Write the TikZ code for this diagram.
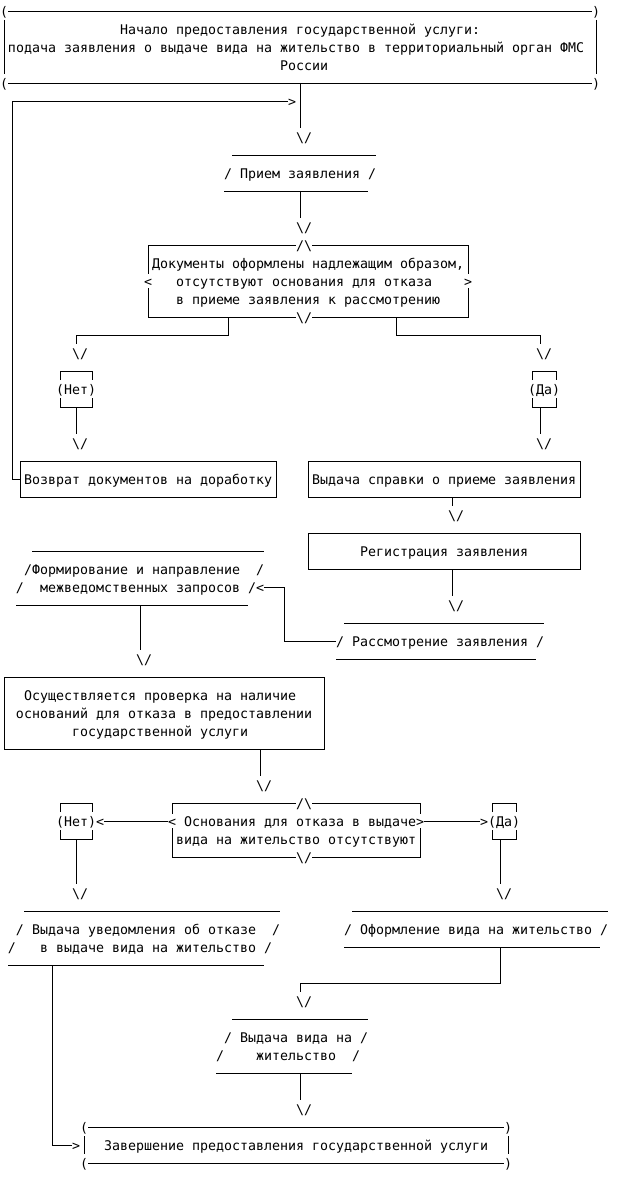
\documentclass[tikz,border=0pt]{standalone}
\usepackage{fontspec}
\newfontfamily\monof{DejaVu Sans Mono}
\frenchspacing
\newcommand\Tx[4]{\node[txt] (#1) at ({#2-0.5},{#3+0.3}) {#4};}
\newcommand\Dn[3]{\Tx{#1}{#2}{#3}{\textbackslash/}}
\newcommand\Up[3]{\Tx{#1}{#2}{#3}{/\textbackslash}}
\begin{document}
\begin{tikzpicture}[x=8pt,y=-18pt,
  ln/.style={line width=0.9pt,black},
  txt/.style={font=\monof\fontsize{13.29}{16}\selectfont,anchor=base west,inner sep=0pt,outer sep=0pt,text=black},
  rect/.style={draw,line width=0.9pt,inner sep=0pt,outer sep=0pt}]
\fill[white] (-0.5,-0.6111) rectangle (77,64.7778);
\useasboundingbox (-0.5,-0.6111) rectangle (77,64.7778);

% ---------- start box
\draw[ln] (0.5,0) -- (73.5,0);
\draw[ln] (0.5,4) -- (73.5,4);
\draw[ln] (0,0.5) -- (0,3.5);
\draw[ln] (74,0.5) -- (74,3.5);
\Tx{sp1}{0}{0}{(}\Tx{sp2}{74}{0}{)}\Tx{sp3}{0}{4}{(}\Tx{sp4}{74}{4}{)}
\Tx{st1}{15}{1}{Начало предоставления государственной услуги:}
\Tx{st2}{1}{2}{подача заявления о выдаче вида на жительство в территориальный орган ФМС}
\Tx{st3}{35}{3}{России}
\coordinate (sOut) at (37,4);
\coordinate (a1in) at (37,6.5);
\draw[ln] (sOut) -- (a1in);
\Dn{a1}{37}{7}

% ---------- Прием заявления
\draw[ln] (28.5,8) -- (46.5,8);
\draw[ln] (27.5,10) -- (45.5,10);
\Tx{pr}{28}{9}{/ Прием заявления /}
\coordinate (pOut) at (37,10);
\coordinate (a2in) at (37,11.5);
\draw[ln] (pOut) -- (a2in);
\Dn{a2}{37}{12}

% ---------- decision 1
\draw[ln] (18,14.6) -- (18,13) -- (36.5,13);
\draw[ln] (38.5,13) -- (58,13) -- (58,14.6);
\draw[ln] (18,15.4) -- (18,17) -- (36.5,17);
\draw[ln] (38.5,17) -- (58,17) -- (58,15.4);
\Up{d1u}{37}{13}
\Dn{d1d}{37}{17}
\Tx{d1t1}{19}{14}{Документы оформлены надлежащим образом,}
\Tx{d1l}{18}{15}{<}
\Tx{d1t2}{22}{15}{отсутствуют основания для отказа}
\Tx{d1r}{58}{15}{>}
\Tx{d1t3}{22}{16}{в приеме заявления к рассмотрению}
\coordinate (d1L) at (28,17);
\coordinate (d1R) at (49,17);
\coordinate (a3in) at (9,18.5);
\coordinate (a4in) at (67,18.5);
\draw[ln] (d1L) -- (28,18) -- (9,18) -- (a3in);
\draw[ln] (d1R) -- (49,18) -- (67,18) -- (a4in);
\Dn{a3}{9}{19}
\Dn{a4}{67}{19}

% ---------- Нет / Да (1)
\draw[ln] (7,20.5) -- (7,20) -- (11,20) -- (11,20.5);
\draw[ln] (7,21.5) -- (7,22) -- (11,22) -- (11,21.5);
\Tx{no1}{7}{21}{(Нет)}
\draw[ln] (66,20.5) -- (66,20) -- (69,20) -- (69,20.5);
\draw[ln] (66,21.5) -- (66,22) -- (69,22) -- (69,21.5);
\Tx{yes1}{66}{21}{(Да)}
\coordinate (n1Out) at (9,22);
\coordinate (a5in) at (9,23.5);
\draw[ln] (n1Out) -- (a5in);
\Dn{a5}{9}{24}
\coordinate (y1Out) at (67,22);
\coordinate (a6in) at (67,23.5);
\draw[ln] (y1Out) -- (a6in);
\Dn{a6}{67}{24}

% ---------- Возврат / Выдача справки
\node[rect,minimum width=256pt,minimum height=36pt] (vozvrat) at (18,26) {};
\Tx{vzt}{3}{26}{Возврат документов на доработку}
\node[rect,minimum width=272pt,minimum height=36pt] (spravka) at (55,26) {};
\Tx{spt}{39}{26}{Выдача справки о приеме заявления}
\coordinate (fbEnd) at (35.5,5);
\coordinate (fbCorner) at (1,5);
\draw[ln] (vozvrat.west) -| (fbCorner) -- (fbEnd);
\Tx{fbtip}{36}{5}{>}
\coordinate (spOut) at (56,27);
\coordinate (a7in) at (56,27.5);
\draw[ln] (spOut) -- (a7in);
\Dn{a7}{56}{28}

% ---------- Регистрация
\node[rect,minimum width=272pt,minimum height=36pt] (reg) at (55,30) {};
\Tx{rgt}{45}{30}{Регистрация заявления}
\coordinate (rgOut) at (56,31);
\coordinate (a8in) at (56,32.5);
\draw[ln] (rgOut) -- (a8in);
\Dn{a8}{56}{33}

% ---------- Рассмотрение
\draw[ln] (42.5,34) -- (67.5,34);
\draw[ln] (41.5,36) -- (66.5,36);
\Tx{rst}{42}{35}{/ Рассмотрение заявления /}
\coordinate (rsOut) at (41.5,35);
\coordinate (frIn) at (32.5,32);
\draw[ln] (rsOut) -- (35,35) -- (35,32) -- (frIn);
\Tx{frtip}{32}{32}{<}

% ---------- Формирование
\draw[ln] (3.5,30) -- (32.5,30);
\draw[ln] (1.5,33) -- (30.5,33);
\Tx{fr1}{3}{31}{/Формирование и направление}
\Tx{fr1r}{32}{31}{/}
\Tx{fr2l}{2}{32}{/}
\Tx{fr2}{5}{32}{межведомственных запросов /}
\coordinate (frOut) at (17,33);
\coordinate (a9in) at (17,35.5);
\draw[ln] (frOut) -- (a9in);
\Dn{a9}{17}{36}

% ---------- Осуществляется проверка
\node[rect,minimum width=320pt,minimum height=72pt] (check) at (20,39) {};
\Tx{ck1}{3}{38}{Осуществляется проверка на наличие}
\Tx{ck2}{2}{39}{оснований для отказа в предоставлении}
\Tx{ck3}{9}{40}{государственной услуги}
\coordinate (ckOut) at (32,41);
\coordinate (a10in) at (32,42.5);
\draw[ln] (ckOut) -- (a10in);
\Dn{a10}{32}{43}

% ---------- decision 2
\draw[ln] (21,44.6) -- (21,44) -- (36.5,44);
\draw[ln] (38.5,44) -- (52,44) -- (52,44.6);
\draw[ln] (21,45.4) -- (21,47) -- (36.5,47);
\draw[ln] (38.5,47) -- (52,47) -- (52,45.4);
\Up{d2u}{37}{44}
\Dn{d2d}{37}{47}
\Tx{d2t1}{21}{45}{< Основания для отказа в выдаче>}
\Tx{d2t2}{22}{46}{вида на жительство отсутствуют}
\coordinate (d2L) at (20.5,45);
\coordinate (no2in) at (12.5,45);
\draw[ln] (d2L) -- (no2in);
\coordinate (d2R) at (52.5,45);
\coordinate (yes2in) at (59.5,45);
\draw[ln] (d2R) -- (yes2in);

% ---------- Нет / Да (2)
\draw[ln] (7,44.5) -- (7,44) -- (11,44) -- (11,44.5);
\draw[ln] (7,45.5) -- (7,46) -- (11,46) -- (11,45.5);
\Tx{no2}{7}{45}{(Нет)<}
\draw[ln] (61,44.5) -- (61,44) -- (64,44) -- (64,44.5);
\draw[ln] (61,45.5) -- (61,46) -- (64,46) -- (64,45.5);
\Tx{yes2}{60}{45}{>(Да)}
\coordinate (n2Out) at (9,46);
\coordinate (a11in) at (9,48.5);
\draw[ln] (n2Out) -- (a11in);
\Dn{a11}{9}{49}
\coordinate (y2Out) at (62,46);
\coordinate (a12in) at (62,48.5);
\draw[ln] (y2Out) -- (a12in);
\Dn{a12}{62}{49}

% ---------- Выдача уведомления об отказе
\draw[ln] (2.5,50) -- (34.5,50);
\draw[ln] (0.5,53) -- (32.5,53);
\Tx{uv1}{2}{51}{/ Выдача уведомления об отказе}
\Tx{uv1r}{34}{51}{/}
\Tx{uv2l}{1}{52}{/}
\Tx{uv2}{5}{52}{в выдаче вида на жительство /}
\coordinate (uvOut) at (6,53);
\coordinate (endIn) at (8.5,63);
\draw[ln] (uvOut) -- (6,63) -- (endIn);
\Tx{endtip}{9}{63}{>}

% ---------- Оформление вида на жительство
\draw[ln] (43.5,50) -- (75.5,50);
\draw[ln] (42.5,52) -- (74.5,52);
\Tx{of}{43}{51}{/ Оформление вида на жительство /}
\coordinate (ofOut) at (62,52);
\coordinate (a13in) at (37,54.5);
\draw[ln] (ofOut) -- (62,54) -- (37,54) -- (a13in);
\Dn{a13}{37}{55}

% ---------- Выдача вида на жительство
\draw[ln] (28.5,56) -- (45.5,56);
\draw[ln] (26.5,59) -- (43.5,59);
\Tx{vv1}{28}{57}{/ Выдача вида на /}
\Tx{vv2l}{27}{58}{/}
\Tx{vv2}{32}{58}{жительство}
\Tx{vv2r}{44}{58}{/}
\coordinate (vvOut) at (37,59);
\coordinate (a14in) at (37,60.5);
\draw[ln] (vvOut) -- (a14in);
\Dn{a14}{37}{61}

% ---------- end box
\draw[ln] (10.5,62) -- (62.5,62);
\draw[ln] (10.5,64) -- (62.5,64);
\draw[ln] (10,62.5) -- (10,63.5);
\draw[ln] (63,62.5) -- (63,63.5);
\Tx{ep1}{10}{62}{(}\Tx{ep2}{63}{62}{)}\Tx{ep3}{10}{64}{(}\Tx{ep4}{63}{64}{)}
\Tx{et}{13}{63}{Завершение предоставления государственной услуги}
\end{tikzpicture}
\end{document}
